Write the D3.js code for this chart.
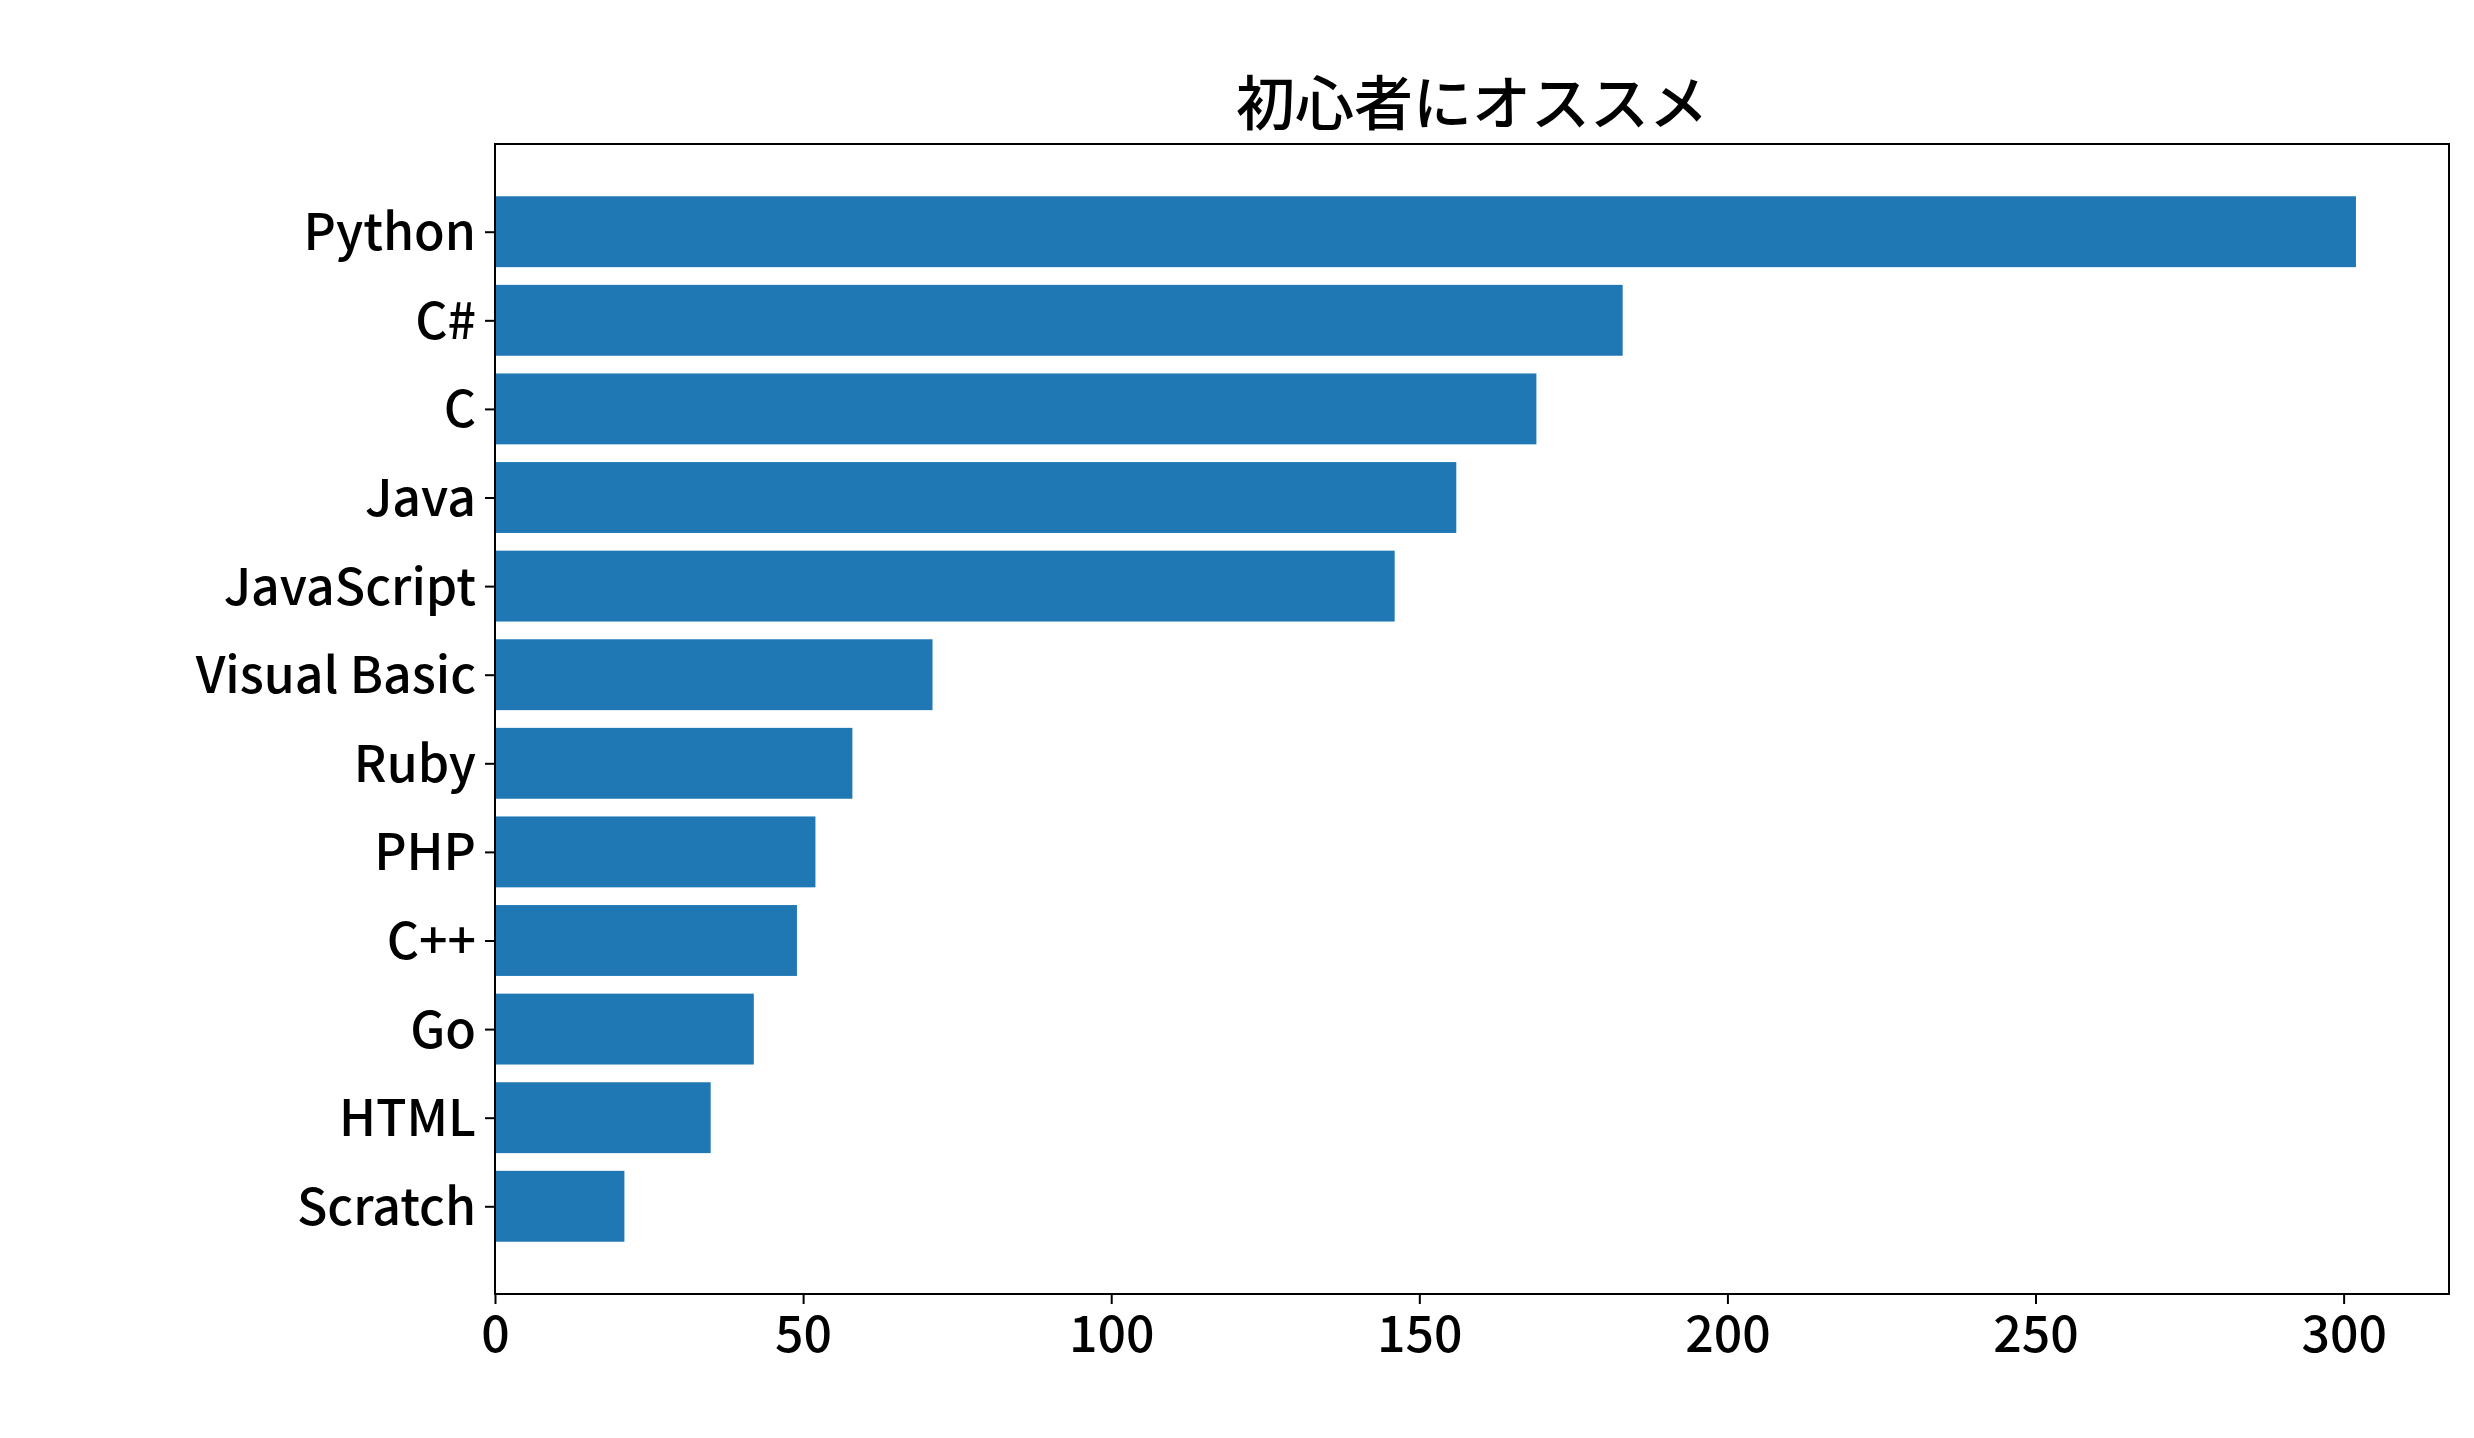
<!DOCTYPE html>
<html>
<head>
<meta charset="utf-8">
<script src="https://cdn.jsdelivr.net/npm/d3@7"></script>
<style>
  html, body { margin: 0; padding: 0; background: #fff; }
  svg { display: block; }
  text { font-family: "Noto Sans CJK JP", "Noto Sans", sans-serif; fill: #000; }
</style>
</head>
<body>
<svg id="chart" width="2474" height="1438"></svg>
<script>
const title = "初心者にオススメ";
const categories = ["Python", "C#", "C", "Java", "JavaScript", "Visual Basic", "Ruby", "PHP", "C++", "Go", "HTML", "Scratch"];
const values = [302, 183, 169, 156, 146, 71, 58, 52, 49, 42, 35, 21];
const xTicks = [0, 50, 100, 150, 200, 250, 300];

(function () {
const pLeft = 495, pRight = 2449, pTop = 144, pBottom = 1294;
const svg = d3.select("#chart");

const n = categories.length;
const barH = 0.8;
const margin = (n - 1 + barH) * 0.05;
const x = d3.scaleLinear().domain([0, d3.max(values) * 1.05]).range([pLeft, pRight]);
const y = d3.scaleLinear().domain([-barH / 2 - margin, n - 1 + barH / 2 + margin]).range([pTop, pBottom]);

// bars
svg.append("g").selectAll("rect")
  .data(values)
  .join("rect")
  .attr("x", x(0))
  .attr("y", (d, i) => y(i - barH / 2))
  .attr("width", d => x(d) - x(0))
  .attr("height", (d, i) => y(i + barH / 2) - y(i - barH / 2))
  .attr("fill", "#1f77b4");

// frame
svg.append("rect")
  .attr("x", pLeft).attr("y", pTop)
  .attr("width", pRight - pLeft).attr("height", pBottom - pTop)
  .attr("fill", "none").attr("stroke", "#000").attr("stroke-width", 2);

// x axis
const xAxis = d3.axisBottom(x).tickValues(xTicks).tickSize(10).tickPadding(10).tickFormat(d3.format("d"));
const gx = svg.append("g").attr("transform", `translate(0,${pBottom})`).call(xAxis);
gx.select(".domain").remove();
gx.selectAll(".tick line").attr("stroke", "#000").attr("stroke-width", 2);
gx.selectAll(".tick text").attr("font-size", 50).attr("font-weight", 500).attr("fill", "#000")
  .attr("font-family", '"Noto Sans CJK JP", sans-serif').attr("dy", null).attr("y", 58);

// y axis
const yAxis = d3.axisLeft(y).tickValues(d3.range(n)).tickSize(10).tickPadding(9).tickFormat(i => categories[i]);
const gy = svg.append("g").attr("transform", `translate(${pLeft},0)`).call(yAxis);
gy.select(".domain").remove();
gy.selectAll(".tick line").attr("stroke", "#000").attr("stroke-width", 2);
gy.selectAll(".tick text").attr("font-size", 50).attr("font-weight", 500).attr("fill", "#000")
  .attr("font-family", '"Noto Sans CJK JP", sans-serif').attr("dy", null).attr("y", 18);

// title
svg.append("text")
  .attr("x", (pLeft + pRight) / 2)
  .attr("y", 125)
  .attr("text-anchor", "middle")
  .attr("font-size", 59)
  .attr("font-weight", 500)
  .text(title);
})();
</script>
</body>
</html>
